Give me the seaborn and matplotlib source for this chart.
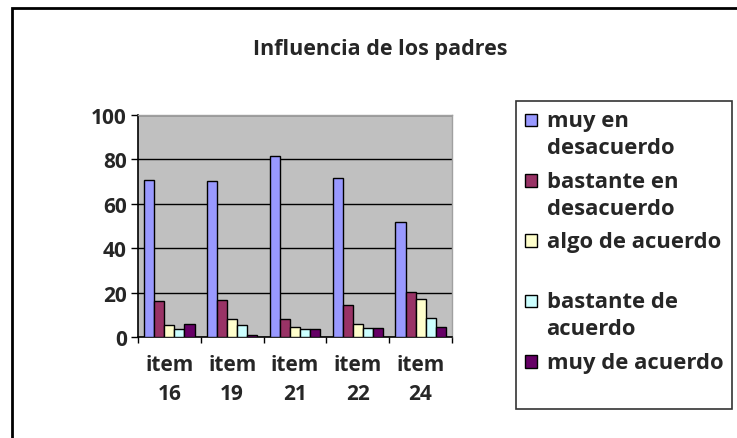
import matplotlib
matplotlib.use("Agg")
import matplotlib.pyplot as plt
import seaborn as sns
import pandas as pd
from matplotlib.patches import Rectangle
from matplotlib.legend_handler import HandlerPatch

items = ["item\n16", "item\n19", "item\n21", "item\n22", "item\n24"]
series = ["muy en\ndesacuerdo", "bastante en\ndesacuerdo", "algo de acuerdo\n ",
          "bastante de\nacuerdo", "muy de acuerdo\n "]
muy_desac = [70.6, 70.2, 81.4, 71.7, 52.0]
bastante_desac = [16.0, 16.7, 8.2, 14.2, 20.2]
algo_acuerdo = [5.2, 8.2, 4.5, 6.0, 16.9]
bastante_acuerdo = [3.7, 5.2, 3.4, 4.2, 8.7]
muy_acuerdo = [6.0, 0.8, 3.4, 4.0, 4.5]
colors = ["#9999FF", "#993366", "#FFFFCC", "#CCFFFF", "#660066"]

values = [muy_desac, bastante_desac, algo_acuerdo, bastante_acuerdo, muy_acuerdo]
rows = []
for s, vals in zip(series, values):
    for it, v in zip(items, vals):
        rows.append({"item": it, "serie": s, "valor": v})
df = pd.DataFrame(rows)

sns.set_style("white")
FONT = ['Open Sans', 'DejaVu Sans']
plt.rcParams['font.family'] = FONT
plt.rcParams['font.weight'] = 'bold'

W, H = 737, 439
fig = plt.figure(figsize=(W / 100, H / 100), dpi=100)
ax = fig.add_axes([138 / W, 1 - 338 / H, 314 / W, (338 - 116) / H])

sns.barplot(data=df, x="item", y="valor", hue="serie", hue_order=series,
            palette=colors, edgecolor="black", linewidth=1.0, width=0.8,
            saturation=1, ax=ax, zorder=3)

ax.set_facecolor("#C0C0C0")
ax.set_ylim(0, 100)
ax.set_xlim(-0.5, 4.5)
ax.set_yticks([0, 20, 40, 60, 80, 100])
ax.yaxis.grid(True, color="black", linewidth=1.0, zorder=0)
ax.set_axisbelow(True)
ax.set_xlabel("")
ax.set_ylabel("")
TS = 15
ax.tick_params(axis="y", labelsize=TS, length=5, width=1, color="black",
               left=True, direction="out", pad=3)
ax.tick_params(axis="x", which="major", labelsize=TS, length=0, pad=12)
ax.set_xticks([-0.5, 0.5, 1.5, 2.5, 3.5, 4.5], minor=True)
ax.tick_params(axis="x", which="minor", length=4, width=1, color="black",
               bottom=True, direction="out")
for lab in ax.get_xticklabels():
    lab.set_fontweight("bold")
    lab.set_linespacing(1.5)
for lab in ax.get_yticklabels():
    lab.set_fontweight("bold")
for side in ["left", "bottom"]:
    ax.spines[side].set_color("black")
    ax.spines[side].set_linewidth(1.2)
for side in ["top", "right"]:
    ax.spines[side].set_color("#A0A0A0")
    ax.spines[side].set_linewidth(1.0)

ax.get_legend().remove()
handles, labels = ax.get_legend_handles_labels()

LS = 15.8
LINESP = 1.38
shift = 0.5 * LINESP * LS * 0.955


def top_patch(legend, orig_handle, xdescent, ydescent, width, height, fontsize):
    return Rectangle((-xdescent, -ydescent + shift), width, height)


hmap = {h: HandlerPatch(patch_func=top_patch) for h in handles}
leg = fig.legend(handles, labels, loc="upper left",
                 bbox_to_anchor=(516 / W, 1 - 102 / H),
                 frameon=True, fancybox=False, edgecolor="black",
                 prop={"size": LS, "weight": "bold", "family": FONT},
                 handlelength=0.52, handleheight=0.5, handletextpad=0.45,
                 labelspacing=0.56, borderpad=0.42, borderaxespad=0,
                 handler_map=hmap)
leg.get_frame().set_linewidth(1.2)
for t in leg.get_texts():
    t.set_linespacing(LINESP)
for h in leg.legend_handles:
    h.set_edgecolor("black")
    h.set_linewidth(1.0)

fig.text(380 / W, 1 - 50 / H, "Influencia de los padres", ha="center", va="center",
         fontsize=15.5, fontweight="bold")

fig.patches.append(Rectangle((11.5 / W, -0.05), 1.2, 1 - 9 / H + 0.05,
                             transform=fig.transFigure, fill=False,
                             edgecolor="black", linewidth=2.0))

fig.savefig("out.png", dpi=100)
